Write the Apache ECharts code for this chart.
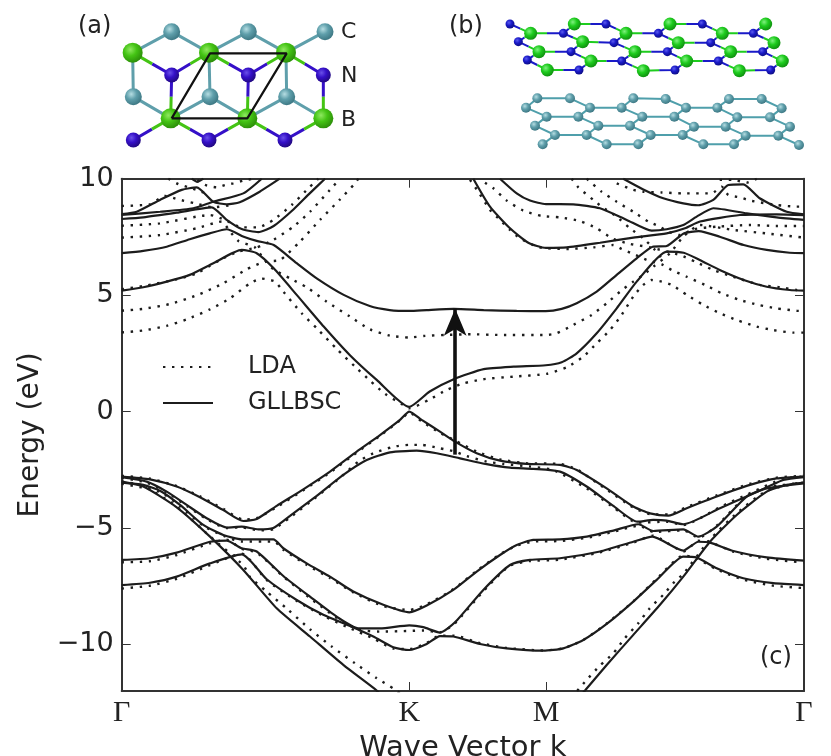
<!DOCTYPE html>
<html lang="en">
<head>
<meta charset="UTF-8">
<title>Band structure</title>
<script src="https://cdn.jsdelivr.net/npm/echarts@6/dist/echarts.min.js"></script>
<style>
    body { margin: 0; background: #fff; }
    #main { width: 831px; height: 756px; }
</style>
</head>
<body>
<div id="main"></div>
<script>
// x is distance along the k path, Gamma=0, K=287.6, M=424.3, Gamma=682.3
const kTicks = [0, 287.6, 424.3, 682.3];
const kLabels = ['Γ', 'K', 'M', 'Γ'];
const energyTicks = [-10, -5, 0, 5, 10];

// GLLBSC conduction bands
const gwC1 = [[0,5.19],[21.6,5.34],[45,5.58],[68,5.87],[91.6,6.37],[120,6.94],[135,6.80],[152,6.15],[175,5.01],[202,3.65],[228,2.43],[255,1.36],[287.6,0.2],[308,0.86],[332,1.39],[362,1.82],[392,1.93],[424,1.99],[440,2.12],[455,2.50],[475,3.36],[495,4.43],[515,5.58],[545,6.87],[562,6.82],[578,6.51],[598,6.08],[622,5.65],[645,5.36],[668,5.22],[682.3,5.19]];
const gwC2 = [[0,6.80],[21.6,6.90],[45,7.08],[68,7.40],[88,7.65],[105,7.83],[122,7.51],[135,7.33],[152,7.15],[175,6.37],[195,5.72],[222,5.01],[248,4.53],[268,4.36],[288,4.32],[305,4.36],[332,4.41],[362,4.36],[395,4.32],[424,4.31],[440,4.41],[455,4.65],[475,5.15],[495,5.87],[515,6.58],[531,7.08],[545,7.11],[562,7.65],[577,7.75],[598,7.51],[622,7.15],[645,6.94],[668,6.82],[682.3,6.80]];
const gwT1 = [[0,8.48],[15,8.58],[38.3,9.09],[60,9.52],[75,9.63],[91.6,9.01],[105,8.90],[118,8.99],[138,9.44],[158,10]];
const gwT2 = [[0,8.44],[38.3,8.58],[71.6,8.73],[91.6,9.01],[121.6,9.37],[140,10]];
const gwT3 = [[0,8.27],[21.6,8.34],[55,8.54],[90,8.77],[105,8.23],[120,7.84],[136.6,7.71],[152,7.97],[172,8.69],[188,9.37],[203.3,10]];
const gwT4 = [[70,10],[75.6,9.86],[81.6,10]];
const gwR1 = [[501.6,10],[521.6,9.54],[541.6,9.16],[561.6,8.94],[576.6,8.86],[591.6,9.09],[606.6,9.73],[621.6,9.76],[638,9.16],[665,8.58],[682.3,8.47]];
const gwR2 = [[378.3,10],[395,9.37],[408.3,9.06],[424.3,8.91],[451.6,8.90],[478.3,8.73],[505,8.23],[530,7.77],[545,7.83],[561.6,8.01],[575,8.37],[591.6,8.73],[625,8.51],[655,8.34],[682.3,8.23]];
const gwR3 = [[351.6,10],[368.3,8.80],[388.3,7.87],[406.6,7.25],[424.3,7.03],[445,7.05],[478.3,7.25],[511.6,7.47],[545,7.65],[563.3,7.87],[578.3,8.16],[618.3,8.44],[655,8.47],[682.3,8.44]];

// GLLBSC valence bands
const gwV1 = [[0,-2.79],[28.3,-2.91],[55,-3.22],[78.3,-3.68],[101.6,-4.23],[121.6,-4.70],[135,-4.61],[155,-4.05],[181.6,-3.34],[208.3,-2.58],[235,-1.72],[258.3,-1.01],[278.3,-0.36],[287.6,0],[300,-0.36],[318.3,-0.86],[333.3,-1.29],[355,-1.79],[378.3,-2.11],[405,-2.25],[438.3,-2.29],[455,-2.51],[485,-3.30],[511.6,-4.08],[528.3,-4.37],[546.6,-4.47],[565,-4.15],[595,-3.65],[628.3,-3.15],[655,-2.87],[682.3,-2.79]];
const gwV2 = [[0,-2.82],[25,-3.01],[45,-3.44],[65,-4.01],[85,-4.58],[105,-4.98],[120,-4.94],[136.6,-5.06],[151.6,-5.00],[168.3,-4.48],[195,-3.62],[221.6,-2.72],[245,-2.08],[268.3,-1.75],[288,-1.69],[295,-1.68],[315,-1.79],[338.3,-2.01],[365,-2.26],[388.3,-2.41],[411.6,-2.46],[438.3,-2.58],[465,-3.22],[491.6,-4.05],[515.6,-4.73],[531.6,-4.65],[545,-4.68],[561.6,-4.84],[598.3,-4.15],[628.3,-3.58],[648.3,-3.19],[661.6,-2.94],[682.3,-2.82]];
const gwV3 = [[0,-3.05],[21.6,-3.15],[38.3,-3.40],[58.3,-4.01],[81.6,-4.87],[101.6,-5.30],[120,-5.49],[151.6,-5.49],[161.6,-5.87],[185,-6.52],[208.3,-7.09],[231.6,-7.73],[261.6,-8.30],[287.6,-8.62],[305,-8.33],[331.6,-7.66],[355,-6.87],[378.3,-6.16],[395,-5.73],[411.6,-5.51],[438.3,-5.49],[465,-5.37],[491.6,-5.11],[516.6,-4.84],[531.6,-5.13],[561.6,-5.06],[576.6,-5.37],[595,-4.94],[625,-3.65],[645,-3.30],[682.3,-3.08]];
const gwV4 = [[0,-3.01],[21.6,-3.22],[55,-4.11],[88.3,-5.37],[121.6,-6.80],[155,-8.45],[188.3,-9.66],[221.6,-10.88],[255,-11.98],[260,-12.2]];
const gwV4r = [[458,-12.24],[463.3,-11.98],[485,-10.88],[511.6,-9.59],[538.3,-8.30],[561.6,-7.09],[588.3,-5.59],[615,-4.44],[645,-3.44],[665,-3.15],[682.3,-3.05]];
const gwV5 = [[0,-6.37],[28.3,-6.30],[55,-6.06],[88.3,-5.59],[105,-5.54],[120,-5.87],[135,-6.01],[161.6,-7.06],[188.3,-7.95],[215,-8.81],[236.6,-9.31],[258.3,-9.31],[287.6,-9.18],[301.6,-9.26],[318.3,-9.49],[333.3,-9.05],[361.6,-7.66],[388.3,-6.59],[408.3,-6.37],[438.3,-6.30],[478.3,-6.01],[511.6,-5.59],[530.6,-5.37],[561.6,-5.97],[576.6,-5.59],[588.3,-5.63],[611.6,-5.99],[645,-6.26],[682.3,-6.40]];
const gwV6 = [[0,-7.45],[28.3,-7.35],[55,-7.09],[88.3,-6.52],[120,-6.13],[145,-7.20],[175,-8.09],[201.6,-8.73],[228.3,-9.21],[251.6,-9.66],[271.6,-10.12],[287.6,-10.24],[305,-9.98],[318.3,-9.64],[331.6,-9.66],[358.3,-9.98],[385,-10.17],[421.6,-10.27],[441.6,-10.17],[461.6,-9.81],[485,-9.12],[511.6,-8.16],[535,-7.23],[561.6,-6.23],[575,-6.27],[595,-6.73],[621.6,-7.16],[651.6,-7.37],[682.3,-7.45]];

// LDA conduction bands
const ldaA = [[0,5.25],[21.6,5.39],[55,5.68],[75,5.94],[98.3,6.51],[116.6,6.87],[135,7.05],[151.6,7.37],[171.6,7.94],[188.3,8.58],[208.3,9.52],[218.3,10]];
const ldaB = [[0,4.33],[21.6,4.41],[48.3,4.62],[75,4.99],[101.6,5.51],[125,6.11],[143.3,6.44],[158.3,6.51],[178.3,7.30],[198.3,8.23],[218.3,9.11],[233.3,9.80],[236.6,10]];
const ldaC = [[0,3.40],[21.6,3.48],[45,3.68],[65,3.96],[88.3,4.39],[108.3,4.86],[128.3,5.51],[140,5.71],[153.3,5.58],[161.6,5.15],[180,4.22],[195,3.58],[215,2.69],[233.3,1.93],[248.3,1.33],[263.3,0.76],[281.6,0.28],[287.6,0.14],[308.3,0.53],[325,0.93],[341.6,1.21],[361.6,1.39],[391.6,1.50],[425,1.62],[445,1.90],[461.6,2.36],[475,2.93],[488.3,3.50],[500,4.15],[511.6,4.94],[521.6,5.44],[530,5.65],[540,5.58],[550,5.44],[565,5.01],[581.6,4.58],[598.3,4.22],[615,3.93],[635,3.65],[651.6,3.50],[671.6,3.39],[682.3,3.39]];
const ldaD = [[0,7.47],[38.3,7.58],[75,7.87],[100,8.16],[108.3,7.73],[116.6,7.33],[133.3,7.05],[141.6,6.58],[151.6,6.12],[168.3,5.72],[185,5.34],[205,4.72],[228.3,4.08],[248.3,3.53],[268.3,3.26],[287.6,3.18],[303.3,3.25],[323.3,3.29],[350,3.32],[378.3,3.29],[424.3,3.29],[435,3.36],[451.6,3.72],[470,4.15],[485,4.65],[498.3,5.15],[511.6,5.58],[521.6,5.87],[531.6,6.22],[548.3,6.80],[561.6,7.51],[578.3,8.01],[611.6,7.80],[645,7.65],[682.3,7.47]];
const ldaE = [[0,7.98],[38.3,8.08],[88.3,8.44],[103.3,8.23],[120,7.91],[136.6,7.91],[151.6,8.23],[170,8.87],[188.3,9.66],[196.6,10]];
const ldaF = [[0,8.83],[28.3,8.90],[43.3,9.26],[56.6,9.11],[73.3,8.94],[91.6,8.77],[110,8.87]];
const ldaG = [[46.6,10],[56.6,9.77],[66.6,9.63],[76.6,9.49],[88.3,9.30]];
const ldaH = [[75.6,9.94],[83.3,9.73],[95,9.63],[103.3,9.73],[111.6,9.80],[121.6,9.92],[131.6,10]];
const ldaR1 = [[348.3,9.95],[356.6,9.44],[368.3,8.66],[378.3,8.23],[388.3,7.80],[398.3,7.44],[415,7.08],[425,7.01],[445,6.98],[471.6,7.05],[491.6,7.15],[500,6.98],[511.6,6.77],[525,6.51],[540,6.32],[550,6.08],[565,5.79],[583.3,5.44],[600,5.08],[618.3,4.79],[636.6,4.58],[655,4.43],[675,4.33],[682.3,4.32]];
const ldaR2 = [[363.3,9.83],[371.6,9.59],[385,9.06],[401.6,8.63],[420,8.40],[438.3,8.34],[458.3,8.18],[475,7.87],[491.6,7.41],[508.3,7.20],[528.3,7.05],[558.3,6.72],[573.3,6.44],[591.6,6.08],[611.6,5.79],[638.3,5.44],[658.3,5.34],[675,5.22],[682.3,5.19]];
const ldaR3 = [[450,10],[456.6,9.63],[471.6,9.09],[480,8.80],[495,8.37],[508.3,7.87],[521.6,7.44],[533.3,6.94],[540,6.58]];
const ldaR4 = [[465,10],[480,9.44],[495,9.01],[511.6,8.58],[526.6,8.16],[536.6,7.97],[546.6,7.73],[558.3,7.58],[571.6,7.83],[595,7.94],[628.3,8.01],[655,7.97],[682.3,7.97]];
const ldaR5 = [[495,9.80],[511.6,9.52],[521.6,9.44],[540,9.41],[561.6,9.37],[590,9.37],[600,9.66],[606.6,9.30],[618.3,9.20],[628.3,9.06],[655,8.87],[675,8.80],[682.3,8.80]];
const ldaR6 = [[598,9.95],[611.6,9.95],[625,9.83],[635,10]];

// LDA valence bands
const ldaV1 = [[0,-2.76],[28.3,-2.88],[55,-3.20],[78.3,-3.64],[101.6,-4.18],[121.6,-4.64],[135,-4.58],[155,-4.10],[181.6,-3.38],[208.3,-2.62],[235,-1.76],[258.3,-1.04],[278.3,-0.38],[287.6,-0.05],[300,-0.42],[318.3,-0.92],[333.3,-1.24],[355,-1.72],[378.3,-2.05],[405,-2.22],[438.3,-2.25],[455,-2.48],[485,-3.35],[511.6,-4.12],[528.3,-4.40],[546.6,-4.42],[565,-4.10],[595,-3.60],[628.3,-3.10],[655,-2.84],[682.3,-2.76]];
const ldaV2 = [[0,-2.85],[25,-3.05],[45,-3.47],[65,-4.05],[85,-4.62],[105,-5.00],[120,-4.97],[136.6,-5.10],[151.6,-5.05],[168.3,-4.55],[195,-3.66],[221.6,-2.72],[236.6,-2.15],[251.6,-1.79],[271.6,-1.51],[287.6,-1.43],[300,-1.43],[318.3,-1.58],[333.3,-1.72],[345,-1.91],[365,-2.15],[381.6,-2.25],[408.3,-2.36],[431.6,-2.51],[465,-3.30],[491.6,-4.11],[515.6,-4.77],[545,-4.73],[561.6,-4.87],[598,-4.11],[628,-3.51],[661.6,-2.88],[682.3,-2.79]];
const ldaV3 = [[0,-3.10],[38,-3.44],[58,-4.05],[82,-4.92],[102,-5.34],[120,-5.58],[152,-5.58],[162,-5.95],[185,-6.58],[208,-7.14],[232,-7.78],[262,-8.36],[288,-8.52],[305,-8.28],[332,-7.62],[355,-6.84],[378,-6.14],[395,-5.76],[412,-5.58],[438,-5.56],[465,-5.42],[492,-5.16],[517,-4.90],[532,-5.17],[562,-5.10],[577,-5.42],[595,-4.90],[625,-3.62],[645,-3.26],[682,-3.05]];
const ldaV4 = [[0,-3.00],[22,-3.20],[55,-4.08],[88,-5.35],[122,-6.62],[128,-7.09],[145,-7.73],[166.6,-8.52],[188.3,-9.35],[210,-10.09],[233.3,-10.81],[255,-11.45],[273,-11.93],[281.6,-12.2]];
const ldaV4r = [[450,-12.3],[455,-12.02],[465,-11.52],[478,-10.92],[491.6,-10.38],[503,-9.74],[516.6,-9.09],[528,-8.45],[541.6,-7.87],[553,-7.30],[561.6,-6.97],[588,-5.51],[615,-4.37],[645,-3.40],[682.3,-3.02]];
const ldaV5 = [[0,-6.47],[28,-6.43],[55,-6.16],[88,-5.66],[105,-5.50],[120,-5.90],[135,-6.05],[162,-7.10],[188,-8.0],[215,-8.86],[237,-9.37],[258,-9.45],[288,-9.42],[302,-9.40],[318,-9.48],[333,-9.10],[362,-7.70],[388,-6.62],[408,-6.42],[438,-6.36],[478,-6.05],[512,-5.62],[531,-5.33],[562,-6.00],[577,-5.55],[588,-5.60],[612,-6.02],[645,-6.32],[682,-6.48]];
const ldaV6 = [[0,-7.60],[28,-7.48],[55,-7.18],[88,-6.60],[120,-6.10],[145,-7.24],[175,-8.13],[202,-8.78],[228,-9.30],[252,-9.75],[272,-10.18],[288,-10.20],[305,-9.94],[318,-9.62],[332,-9.62],[358,-9.94],[385,-10.15],[422,-10.26],[442,-10.16],[462,-9.80],[485,-9.10],[512,-8.14],[535,-7.18],[562,-6.18],[575,-6.30],[595,-6.78],[622,-7.22],[652,-7.48],[682,-7.58]];

const gllbscBands = [gwC1, gwC2, gwT1, gwT2, gwT3, gwT4, gwR1, gwR2, gwR3, gwV1, gwV2, gwV3, gwV4, gwV4r, gwV5, gwV6];
const ldaBands = [ldaA, ldaB, ldaC, ldaD, ldaE, ldaF, ldaG, ldaH, ldaR1, ldaR2, ldaR3, ldaR4, ldaR5, ldaR6, ldaV1, ldaV2, ldaV3, ldaV4, ldaV4r, ldaV5, ldaV6];

// band gap arrow, from valence to conduction at the same k
const gapArrow = [[333.5, -1.85], [333.5, 4.42]];

// panel (a), top view, in panel units
const aCarbon = [[335,95],[565,95],[795,95],[220,290],[450,290],[680,290]];
const aNitrogen = [[335,225],[565,225],[790,225],[220,420],[447,420],[675,420]];
const aBoron = [[218,158],[447,158],[678,158],[332,355],[562,355],[790,355]];
const aCell = [[335,355],[562,355],[680,160],[450,160],[335,355]];
// bonds as index pairs: [carbon, boron] and [nitrogen, boron]
const aCB = [[0,0],[0,1],[1,1],[1,2],[2,2],[3,0],[4,1],[5,2],[3,3],[4,3],[4,4],[5,4],[5,5]];
const aNB = [[0,0],[0,1],[1,1],[1,2],[2,2],[0,3],[1,4],[2,5],[3,3],[4,3],[4,4],[5,4],[5,5]];

// panel (b), side view of the two layers
const bNitrogen = [[210,72],[370,100],[498,72],[655,100],[787,72],[940,100],[235,125],[393,155],[522,128],[682,155],[812,128],[968,155],[262,180],[417,210],[545,183],[705,210],[835,183],[992,210]];
const bBoron = [[272,100],[403,72],[558,100],[690,72],[847,100],[977,72],[297,155],[428,125],[585,155],[715,128],[872,155],[1002,128],[322,210],[453,183],[610,212],[740,183],[898,212],[1027,183]];
const bNB = [[0,0],[1,0],[1,1],[2,1],[2,2],[3,2],[3,3],[4,3],[4,4],[5,4],[5,5],[1,7],[6,0],[6,6],[7,6],[7,7],[8,2],[8,7],[8,8],[9,8],[3,9],[9,9],[10,9],[10,4],[10,10],[11,10],[5,11],[11,11],[12,6],[12,12],[13,12],[13,13],[7,13],[14,13],[14,8],[14,14],[15,14],[9,15],[15,15],[16,15],[16,10],[16,16],[17,16],[11,17],[17,17]];
const bCarbon = [[292,295],[390,295],[580,295],[677,297],[867,297],[965,297],[258,323],[450,323],[545,323],[738,323],[832,323],[1025,325],[320,350],[415,350],[607,350],[703,350],[892,352],[990,352],[285,377],[475,377],[570,377],[762,380],[857,380],[1050,380],[345,405],[440,405],[632,405],[728,405],[917,407],[1015,407],[308,433],[500,433],[595,433],[790,433],[882,433],[1077,435]];
const bCC = [[0,1],[2,3],[4,5],[7,8],[9,10],[12,13],[14,15],[16,17],[19,20],[21,22],[24,25],[26,27],[28,29],[31,32],[33,34],[6,0],[1,7],[8,2],[3,9],[10,4],[5,11],[6,12],[7,13],[8,14],[9,15],[10,16],[11,17],[18,12],[13,19],[20,14],[15,21],[22,16],[17,23],[18,24],[19,25],[20,26],[21,27],[22,28],[23,29],[30,24],[25,31],[32,26],[27,33],[34,28],[29,35]];

const panelLabels = [
    { text: '(a)', x: 78, y: 27, size: 24 },
    { text: '(b)', x: 449, y: 27, size: 24 },
    { text: '(c)', x: 760, y: 658, size: 24 },
    { text: 'C', x: 341, y: 32, size: 22 },
    { text: 'N', x: 341, y: 76, size: 22 },
    { text: 'B', x: 341, y: 120, size: 22 }
];

const textColor = '#222';
const lineColor = '#1c1c1c';

function ball(light, mid, dark) {
    return {
        type: 'radial', x: 0.38, y: 0.35, r: 0.7,
        colorStops: [{ offset: 0, color: light }, { offset: 0.45, color: mid }, { offset: 1, color: dark }]
    };
}

// line series with gaps, one piece per bond
function bondSeries(pieces, color, width, axisIndex, z) {
    let data = [];
    pieces.forEach(p => { data.push(p[0], p[1], ['-', '-']); });
    return {
        type: 'line', data: data, xAxisIndex: axisIndex, yAxisIndex: axisIndex,
        showSymbol: false, symbol: 'none', silent: true, z: z,
        lineStyle: { color: color, width: width }
    };
}

function atomSeries(points, color, size, axisIndex, z) {
    return {
        type: 'scatter', data: points, xAxisIndex: axisIndex, yAxisIndex: axisIndex,
        symbolSize: size, itemStyle: { color: color, opacity: 1 }, silent: true, z: z
    };
}

function mid(p, q) { return [(p[0] + q[0]) / 2, (p[1] + q[1]) / 2]; }

function halfBonds(pairs, first, second, side) {
    return pairs.map(pair => {
        let p = first[pair[0]], q = second[pair[1]];
        return side === 0 ? [p, mid(p, q)] : [mid(p, q), q];
    });
}

const tealBall = ball('#b5dde2', '#5f9fab', '#3a7480');
const blueBall = ball('#6a50e8', '#3510c8', '#20087a');
const greenBall = ball('#8fe860', '#44c414', '#2a8a08');
const blue2Ball = ball('#5a5af0', '#1a1ac8', '#0c0c80');
const green2Ball = ball('#80f080', '#1ecc1e', '#0e8a0e');

let series = [];

ldaBands.forEach(b => {
    series.push({
        name: 'LDA', type: 'line', data: b, smooth: 0.2, showSymbol: false, symbol: 'none', clip: true,
        lineStyle: { color: lineColor, width: 2.4, type: [2.4, 6.6] }, silent: true, z: 3
    });
});
gllbscBands.forEach(b => {
    series.push({
        name: 'GLLBSC', type: 'line', data: b, smooth: 0.2, showSymbol: false, symbol: 'none', clip: true,
        lineStyle: { color: lineColor, width: 2.2 }, silent: true, z: 4
    });
});

// arrow
series.push({
    type: 'line', data: [], silent: true, z: 5,
    markLine: {
        silent: true, symbol: ['none', 'arrow'], symbolSize: [17, 27], animation: false,
        lineStyle: { color: '#111', width: 3.6, type: 'solid' }, label: { show: false },
        data: [[{ coord: gapArrow[0] }, { coord: gapArrow[1] }]]
    }
});

// panel (a)
series.push(bondSeries(aCB.map(p => [aCarbon[p[0]], aBoron[p[1]]]), '#5f9fab', 3, 2, 6));
series.push(bondSeries(halfBonds(aNB, aNitrogen, aBoron, 0), '#3510c8', 3, 2, 6));
series.push(bondSeries(halfBonds(aNB, aNitrogen, aBoron, 1), '#44c414', 3, 2, 6));
series.push(atomSeries(aCarbon, tealBall, 17, 2, 7));
series.push(atomSeries(aNitrogen, blueBall, 15, 2, 7));
series.push(atomSeries(aBoron, greenBall, 20, 2, 7));
series.push({
    type: 'line', data: aCell, xAxisIndex: 2, yAxisIndex: 2, showSymbol: false, symbol: 'none', silent: true, z: 8,
    lineStyle: { color: '#111', width: 2.2 }
});

// panel (b)
series.push(bondSeries(halfBonds(bNB, bNitrogen, bBoron, 0), '#1a1ac8', 2, 3, 6));
series.push(bondSeries(halfBonds(bNB, bNitrogen, bBoron, 1), '#1ecc1e', 2, 3, 6));
series.push(bondSeries(bCC.map(p => [bCarbon[p[0]], bCarbon[p[1]]]), '#4f9fab', 2, 3, 6));
series.push(atomSeries(bNitrogen, blue2Ball, 9, 3, 7));
series.push(atomSeries(bBoron, green2Ball, 13, 3, 7));
series.push(atomSeries(bCarbon, tealBall, 10, 3, 7));

const spine = { show: true, onZero: false, lineStyle: { color: '#333', width: 2 } };
const tick = { show: true, inside: true, length: 9, lineStyle: { color: '#333', width: 1 } };
const sansFont = '"DejaVu Sans"';

const option = {
    animation: false,
    backgroundColor: '#fff',
    legend: {
        left: 162, top: 355, padding: 0, orient: 'vertical', itemWidth: 50, itemHeight: 14, itemGap: 12,
        selectedMode: false,
        data: ['LDA', 'GLLBSC'],
        itemStyle: { opacity: 0 },
        textStyle: { fontFamily: sansFont, fontSize: 24, color: textColor, padding: [0, 0, 0, 30] }
    },
    grid: [
        { left: 121.7, top: 178.7, width: 682.3, height: 512.3, outerBoundsMode: 'none' },
        { left: 60, top: 0, width: 340, height: 170, outerBoundsMode: 'none' },
        { left: 440, top: 0, width: 380, height: 170, outerBoundsMode: 'none' }
    ],
    xAxis: [
        {
            type: 'value', gridIndex: 0, min: 0, max: 682.3, position: 'bottom',
            splitLine: { show: false }, axisLine: spine,
            axisTick: Object.assign({ customValues: kTicks }, tick),
            axisLabel: {
                customValues: kTicks, margin: 7,
                formatter: v => kLabels[kTicks.indexOf(v)],
                fontFamily: '"Liberation Serif"', fontSize: 30, color: textColor
            },
            name: 'Wave Vector k', nameLocation: 'middle', nameGap: 43,
            nameTextStyle: { fontFamily: sansFont, fontSize: 29, color: textColor }
        },
        {
            type: 'value', gridIndex: 0, min: 0, max: 682.3, position: 'top',
            splitLine: { show: false }, axisLine: spine,
            axisTick: Object.assign({ customValues: kTicks }, tick),
            axisLabel: { show: false }
        },
        { type: 'value', gridIndex: 1, min: 0, max: 1020, show: false },
        { type: 'value', gridIndex: 2, min: 0, max: 1140, show: false }
    ],
    yAxis: [
        {
            type: 'value', gridIndex: 0, min: -12, max: 10, position: 'left',
            splitLine: { show: false }, axisLine: spine,
            axisTick: Object.assign({ customValues: energyTicks }, tick),
            axisLabel: {
                customValues: energyTicks, margin: 8, verticalAlignMaxLabel: 'middle',
                formatter: v => String(v).replace('-', '−'),
                fontFamily: sansFont, fontSize: 27, color: textColor
            },
            name: 'Energy (eV)', nameLocation: 'middle', nameGap: 77,
            nameTextStyle: { fontFamily: sansFont, fontSize: 28, color: textColor }
        },
        {
            type: 'value', gridIndex: 0, min: -12, max: 10, position: 'right',
            splitLine: { show: false }, axisLine: spine,
            axisTick: Object.assign({ customValues: energyTicks }, tick),
            axisLabel: { show: false }
        },
        { type: 'value', gridIndex: 1, min: 0, max: 510, inverse: true, show: false },
        { type: 'value', gridIndex: 2, min: 0, max: 510, inverse: true, show: false }
    ],
    graphic: panelLabels.map(l => ({
        type: 'text', x: l.x, y: l.y, silent: true,
        style: { text: l.text, fontFamily: sansFont, fontSize: l.size, fill: textColor, verticalAlign: 'middle' }
    })),
    series: series
};

const chart = echarts.init(document.getElementById('main'));
chart.setOption(option);
</script>
</body>
</html>
